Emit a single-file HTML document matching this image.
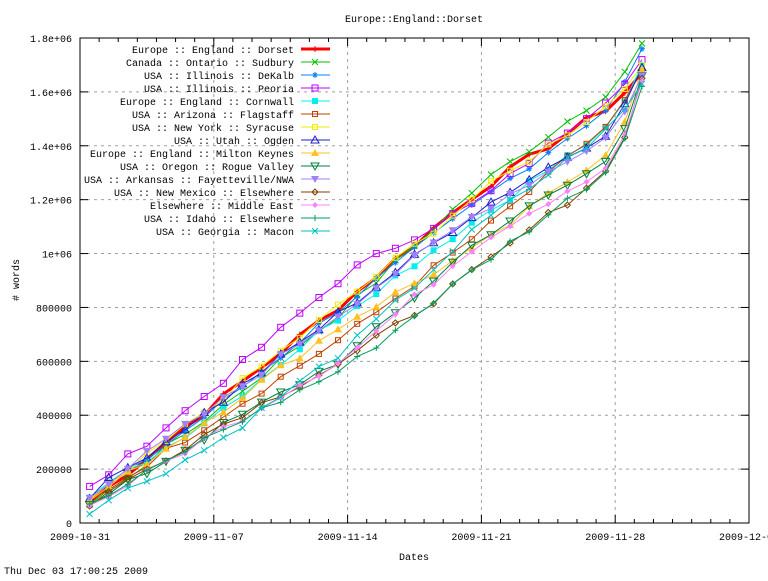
<!DOCTYPE html>
<html><head><meta charset="utf-8"><style>
html,body{margin:0;padding:0;background:#fff;}
svg text{font-family:"Liberation Mono","DejaVu Sans Mono",monospace;font-size:10px;fill:#000;}
</style></head><body>
<svg id="s" width="768" height="576" xmlns="http://www.w3.org/2000/svg"></svg>
<script>
const s=document.getElementById('s');
let h='';
const L=80,R=749,T=38,B=523;
const X=d=>L+d*(R-L)/35, Y=v=>B-v*(B-T)/1800;
for(let i=0;i<=9;i++){const y=Y(i*200);
 if(i>0&&i<9)h+=`<line x1="${L}" x2="${R}" y1="${y}" y2="${y}" stroke="#a0a0a0" stroke-dasharray="3,4"/>`;
 h+=`<line x1="${L}" x2="${L+8}" y1="${y}" y2="${y}" stroke="#000"/><line x1="${R-8}" x2="${R}" y1="${y}" y2="${y}" stroke="#000"/>`;
 const lab=['0','200000','400000','600000','800000','1e+06','1.2e+06','1.4e+06','1.6e+06','1.8e+06'][i];
 h+=`<text x="${L-8}" y="${y+4}" text-anchor="end">${lab}</text>`;}
const xl=['2009-10-31','2009-11-07','2009-11-14','2009-11-21','2009-11-28','2009-12-05'];
for(let i=0;i<=5;i++){const x=X(i*7);
 if(i>0&&i<5)h+=`<line x1="${x}" x2="${x}" y1="${T}" y2="${B}" stroke="#a0a0a0" stroke-dasharray="3,4"/>`;
 h+=`<line x1="${x}" x2="${x}" y1="${B}" y2="${B-8}" stroke="#000"/><line x1="${x}" x2="${x}" y1="${T}" y2="${T+8}" stroke="#000"/>`;
 h+=`<text x="${x}" y="${B+17}" text-anchor="middle">${xl[i]}</text>`;}
for(let d=0;d<=35;d++){if(d%7==0)continue;const x=X(d);h+=`<line x1="${x}" x2="${x}" y1="${B}" y2="${B-4}" stroke="#000"/><line x1="${x}" x2="${x}" y1="${T}" y2="${T+4}" stroke="#000"/>`;}
h+=`<rect x="${L}" y="${T}" width="${R-L}" height="${B-T}" fill="none" stroke="#000"/>`;
const S=[
["Europe :: England :: Dorset","#ff0000","plus",[50,440,830,1240,1560,1670],3],
["Canada :: Ontario :: Sudbury","#00c000","x",[40,410,800,1260,1620,1780],1],
["USA :: Illinois :: DeKalb","#0080ff","star",[60,420,820,1200,1560,1760],1],
["USA :: Illinois :: Peoria","#c000ff","sq",[100,500,930,1200,1600,1720],1],
["Europe :: England :: Cornwall","#00eeee","fsq",[70,400,790,1140,1480,1700],1],
["USA :: Arizona :: Flagstaff","#c04000","sqd",[60,380,700,1080,1500,1680],1],
["USA :: New York :: Syracuse","#eeee00","sqd",[50,440,830,1230,1570,1700],1],
["USA :: Utah :: Ogden","#2020c0","tri",[80,430,800,1170,1470,1690],1],
["Europe :: England :: Milton Keynes","#ffc020","ftri",[60,400,750,1030,1400,1680],1],
["USA :: Oregon :: Rogue Valley","#008040","itri",[40,340,620,1060,1360,1660],1],
["USA :: Arkansas :: Fayetteville/NWA","#a080ff","fitri",[80,430,800,1160,1450,1660],1],
["USA :: New Mexico :: Elsewhere","#804000","dia",[50,350,610,950,1330,1650],1],
["Elsewhere :: Middle East","#ff80ff","fdia",[40,330,620,1050,1340,1640],1],
["USA :: Idaho :: Elsewhere","#00a060","plus",[40,330,580,960,1330,1620],1],
["USA :: Georgia :: Macon","#00c0c0","x",[30,290,650,1110,1480,1630],1]];
function mk(t,x,y,c){const r=3;switch(t){
case"plus":return`<path d="M${x-r} ${y}h${2*r}M${x} ${y-r}v${2*r}" stroke="${c}"/>`;
case"x":return`<path d="M${x-r} ${y-r}l${2*r} ${2*r}M${x-r} ${y+r}l${2*r} ${-2*r}" stroke="${c}"/>`;
case"star":return`<path d="M${x-r} ${y}h${2*r}M${x} ${y-r}v${2*r}M${x-2} ${y-2}l4 4M${x-2} ${y+2}l4 -4" stroke="${c}"/>`;
case"sq":return`<rect x="${x-r}" y="${y-r}" width="${2*r}" height="${2*r}" fill="none" stroke="${c}"/>`;
case"fsq":return`<rect x="${x-r}" y="${y-r}" width="${2*r}" height="${2*r}" fill="${c}"/>`;
case"sqd":return`<rect x="${x-2.5}" y="${y-2.5}" width="5" height="5" fill="none" stroke="${c}"/>`;
case"tri":return`<path d="M${x} ${y-r-1}L${x+r+1} ${y+r}H${x-r-1}Z" fill="none" stroke="${c}"/>`;
case"ftri":return`<path d="M${x} ${y-r-1}L${x+r+1} ${y+r}H${x-r-1}Z" fill="${c}"/>`;
case"itri":return`<path d="M${x} ${y+r+1}L${x+r+1} ${y-r}H${x-r-1}Z" fill="none" stroke="${c}"/>`;
case"fitri":return`<path d="M${x} ${y+r+1}L${x+r+1} ${y-r}H${x-r-1}Z" fill="${c}"/>`;
case"dia":return`<path d="M${x} ${y-r}L${x+r} ${y}L${x} ${y+r}L${x-r} ${y}Z" fill="none" stroke="${c}"/>`;
case"fdia":return`<path d="M${x} ${y-r}L${x+r} ${y}L${x} ${y+r}L${x-r} ${y}Z" fill="${c}"/>`;}}
const ad=[0,7,14,21,28,29.4];
function val(a,d){for(let i=0;i<5;i++){if(d<=ad[i+1]){const t=(d-ad[i])/(ad[i+1]-ad[i]);return a[i]+(a[i+1]-a[i])*t;}}return a[5];}
let seed=7;const rnd=()=>{seed=(seed*9301+49297)%233280;return seed/233280;};
S.forEach((sr,k)=>{
 const days=[];for(let d=0.5;d<29;d+=1)days.push(d);days.push(29.4);
 let pts=[],prev=0;
 days.forEach(d=>{let v=val(sr[3],d)+(d<29?(rnd()-0.5)*30:0);if(v<prev)v=prev+2;prev=v;pts.push([X(d),Y(v)]);});
 h+=`<polyline points="${pts.map(p=>p[0].toFixed(1)+','+p[1].toFixed(1)).join(' ')}" fill="none" stroke="${sr[1]}" stroke-width="${sr[4]}"/>`;
 pts.forEach(p=>h+=mk(sr[2],+p[0].toFixed(1),+p[1].toFixed(1),sr[1]));
});
S.forEach((sr,k)=>{const y=49+k*13;
 h+=`<text x="294" y="${y+4}" text-anchor="end">${sr[0]}</text>`;
 h+=`<line x1="301" x2="330" y1="${y}" y2="${y}" stroke="${sr[1]}" stroke-width="${sr[4]}"/>`+mk(sr[2],315,y,sr[1]);});
h+=`<text x="414" y="22" text-anchor="middle">Europe::England::Dorset</text>`;
h+=`<text x="414" y="560" text-anchor="middle">Dates</text>`;
h+=`<text x="4" y="574">Thu Dec 03 17:00:25 2009</text>`;
h+=`<text transform="translate(19,280) rotate(-90)" text-anchor="middle"># words</text>`;
s.innerHTML=h;
</script>
</body></html>
